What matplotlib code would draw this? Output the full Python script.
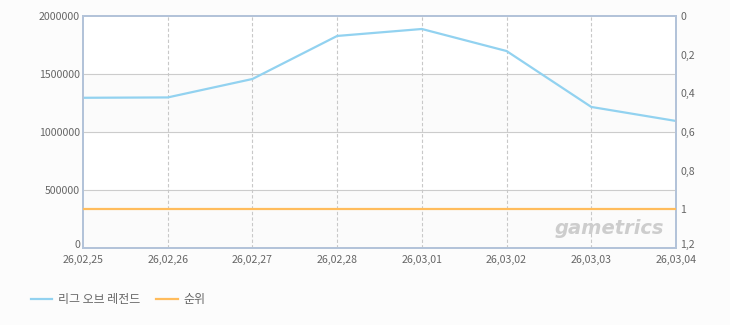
import matplotlib
matplotlib.use("Agg")
import matplotlib.pyplot as plt

plt.rcParams['font.family'] = ['Noto Sans CJK KR', 'DejaVu Sans']

## Data
dates = ["26,02,25", "26,02,26", "26,02,27", "26,02,28",
         "26,03,01", "26,03,02", "26,03,03", "26,03,04"]
lol_values = [1295000, 1298000, 1457000, 1828000, 1888000, 1698000, 1216000, 1095000]
rank_values = [1, 1, 1, 1, 1, 1, 1, 1]

left_ticks = [0, 500000, 1000000, 1500000, 2000000]
right_ticks = [0, 0.2, 0.4, 0.6, 0.8, 1.0, 1.2]
right_labels = ["0", "0,2", "0,4", "0,6", "0,8", "1", "1,2"]

series_names = ["리그 오브 레전드", "순위"]
blue = "#92d2f0"
orange = "#ffbc5c"

## Plot
fig = plt.figure(figsize = (7.3, 3.25), dpi = 100)
fig.patch.set_facecolor("#fcfcfc")
ax1 = fig.add_axes([83/730, 77/325, 593/730, 232/325])
ax1.set_facecolor("white")
ax2 = ax1.twinx()

x = list(range(len(dates)))

# alternating bands
for lo, hi in [(0, 500000), (1000000, 1500000)]:
    ax1.axhspan(lo, hi, color = "#fbfbfb", zorder = 0)

for yt in left_ticks[1:-1]:
    ax1.axhline(yt, color = "#cccccc", linewidth = 0.8, zorder = 1)
for xt in x[1:-1]:
    ax1.axvline(xt, color = "#c8c8c8", linewidth = 0.8, linestyle = (0, (3, 2)), zorder = 1)

l1, = ax1.plot(x, lol_values, color = blue, linewidth = 1.6, zorder = 3, label = series_names[0])
l2, = ax2.plot(x, rank_values, color = orange, linewidth = 1.6, zorder = 3, label = series_names[1])

ax1.set_xlim(0, len(dates) - 1)
ax1.set_ylim(0, 2000000)
ax2.set_ylim(1.2, 0)

ax1.set_xticks(x)
ax1.set_xticklabels(dates)
ax1.set_yticks(left_ticks)
ax1.set_yticklabels([str(v) for v in left_ticks])
ax2.set_yticks(right_ticks)
ax2.set_yticklabels(right_labels)

for ax in (ax1, ax2):
    ax.tick_params(length = 0, labelsize = 7.6, labelcolor = "#666666")
    for s in ax.spines.values():
        s.set_color("#b3c3d9")
        s.set_linewidth(1.3)
ax1.tick_params(axis = 'y', pad = 2)
ax1.tick_params(axis = 'x', pad = 5)
ax2.tick_params(axis = 'y', pad = 3)
ax1.get_yticklabels()[0].set_va("baseline")
ax2.get_yticklabels()[-1].set_va("baseline")

# watermark
ax1.text(0.98, 0.085, "gametrics", transform = ax1.transAxes, ha = "right", va = "center",
         fontsize = 14, fontweight = "bold", fontstyle = "italic", color = "#cdcdcd",
         family = "DejaVu Sans", zorder = 2)

fig.legend(handles = [l1, l2], loc = "lower left", bbox_to_anchor = (20/730, 8/325),
           ncol = 2, frameon = False, fontsize = 8.6, handlelength = 1.8,
           handletextpad = 0.5, columnspacing = 1.3, labelcolor = "#666666")

fig.savefig("out.png", dpi = 100, facecolor = fig.get_facecolor())
